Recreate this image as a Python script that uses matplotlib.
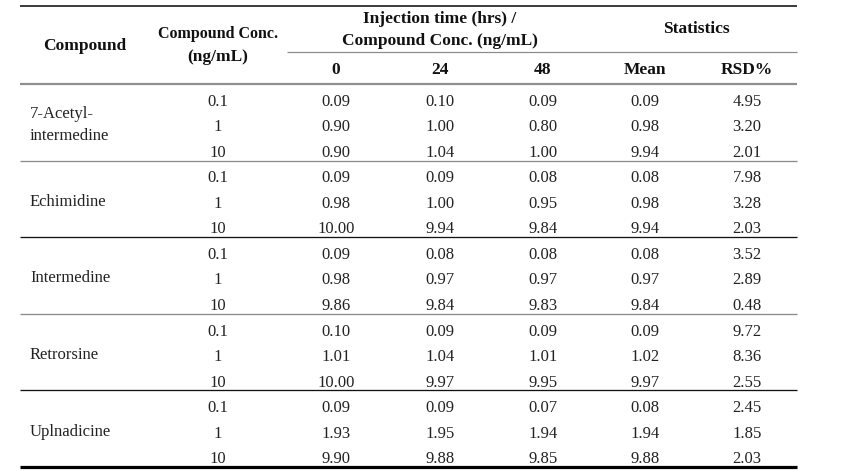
import matplotlib
matplotlib.use("Agg")
import matplotlib.pyplot as plt

compounds = ["7-Acetyl-\nintermedine", "Echimidine", "Intermedine", "Retrorsine", "Uplnadicine"]
concs = ["0.1", "1", "10"]
t0 = [["0.09", "0.90", "0.90"], ["0.09", "0.98", "10.00"], ["0.09", "0.98", "9.86"],
      ["0.10", "1.01", "10.00"], ["0.09", "1.93", "9.90"]]
t24 = [["0.10", "1.00", "1.04"], ["0.09", "1.00", "9.94"], ["0.08", "0.97", "9.84"],
       ["0.09", "1.04", "9.97"], ["0.09", "1.95", "9.88"]]
t48 = [["0.09", "0.80", "1.00"], ["0.08", "0.95", "9.84"], ["0.08", "0.97", "9.83"],
       ["0.09", "1.01", "9.95"], ["0.07", "1.94", "9.85"]]
mean = [["0.09", "0.98", "9.94"], ["0.08", "0.98", "9.94"], ["0.08", "0.97", "9.84"],
        ["0.09", "1.02", "9.97"], ["0.08", "1.94", "9.88"]]
rsd = [["4.95", "3.20", "2.01"], ["7.98", "3.28", "2.03"], ["3.52", "2.89", "0.48"],
       ["9.72", "8.36", "2.55"], ["2.45", "1.85", "2.03"]]
time_labels = ["0", "24", "48"]
stat_labels = ["Mean", "RSD%"]

W, H = 842, 475
fig = plt.figure(figsize=(W / 100, H / 100), dpi=100)
ax = fig.add_axes([0, 0, 1, 1])
ax.set_xlim(0, W)
ax.set_ylim(H, 0)
ax.axis("off")

FONT = "Liberation Serif"
fs = 12
hfs = 12.5
tc = "#222222"
px = 0.72

x_left, x_right = 20, 797
col_x = [218, 336, 440, 543, 645, 747]
name_x = 30

# rules
ax.plot([x_left, x_right], [5.5, 5.5], color="#111111", lw=1.6 * px, solid_capstyle="butt")
ax.plot([287, x_right], [51.5, 51.5], color="#8a8a8a", lw=1.2 * px, solid_capstyle="butt")
ax.plot([x_left, x_right], [84, 84], color="#8f8f8f", lw=2.2 * px, solid_capstyle="butt")

header_bottom = 84
group_h = 76.6
row_h = group_h / 3
for g in range(len(compounds)):
    top = header_bottom + g * group_h
    bottom = top + group_h
    if g < len(compounds) - 1:
        color = "#8a8a8a" if g % 2 == 0 else "#111111"
        ax.plot([x_left, x_right], [bottom, bottom], color=color, lw=1.3 * px, solid_capstyle="butt")
    else:
        ax.plot([x_left, x_right], [bottom, bottom], color="#000000", lw=3.2 * px, solid_capstyle="butt")
    name = compounds[g]
    if "\n" in name:
        l1, l2 = name.split("\n")
        ax.text(name_x, top + 30, l1, fontsize=fs, family=FONT, color=tc, ha="left", va="center")
        ax.text(name_x, top + 52, l2, fontsize=fs, family=FONT, color=tc, ha="left", va="center")
    else:
        ax.text(name_x, top + group_h / 2 + 3, name, fontsize=fs, family=FONT, color=tc, ha="left", va="center")
    for r in range(3):
        y = top + row_h * r + row_h / 2 + 5
        vals = [concs[r], t0[g][r], t24[g][r], t48[g][r], mean[g][r], rsd[g][r]]
        for xc, v in zip(col_x, vals):
            ax.text(xc, y, v, fontsize=fs, family=FONT, color=tc, ha="center", va="center")

# headers
hb = dict(fontsize=hfs, family=FONT, color="#111111", fontweight="bold", ha="center", va="center")
ax.text(85, 46, "Compound", **hb)
hb_small = dict(hb, fontsize=11.5)
ax.text(col_x[0], 34, "Compound Conc.", **hb_small)
ax.text(col_x[0], 57, "(ng/mL)", **hb)
ax.text(col_x[2], 19, "Injection time (hrs) /", **hb)
ax.text(col_x[2], 41, "Compound Conc. (ng/mL)", **hb)
ax.text((col_x[4] + col_x[5]) / 2, 29, "Statistics", **hb)
for xc, lab in zip(col_x[1:4], time_labels):
    ax.text(xc, 70, lab, **hb)
for xc, lab in zip(col_x[4:6], stat_labels):
    ax.text(xc, 70, lab, **hb)

fig.savefig("out.png", dpi=100, facecolor="white")
